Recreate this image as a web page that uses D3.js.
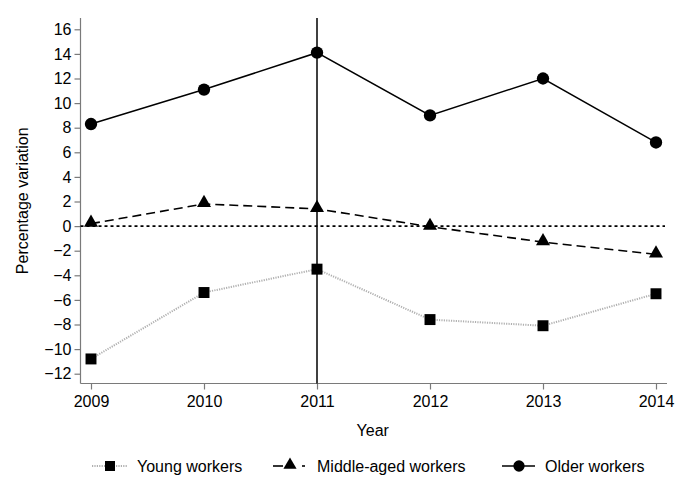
<!DOCTYPE html>
<html><head><meta charset="utf-8">
<script src="https://cdn.jsdelivr.net/npm/d3@7"></script>
<style>body{margin:0;background:#fff}svg{display:block}text{font-family:"Liberation Sans",Arial,sans-serif;fill:#000}</style>
</head><body>
<script>
const years = [2009, 2010, 2011, 2012, 2013, 2014];
const youngWorkers = [-10.8, -5.4, -3.5, -7.6, -8.1, -5.5];
const middleAgedWorkers = [0.2, 1.8, 1.4, -0.05, -1.3, -2.3];
const olderWorkers = [8.3, 11.1, 14.1, 9.0, 12.0, 6.8];
const yTicks = [-12,-10,-8,-6,-4,-2,0,2,4,6,8,10,12,14,16];
const seriesNames = ["Young workers", "Middle-aged workers", "Older workers"];
const referenceYear = 2011;

const W = 685, H = 497;
const svg = d3.select("body").append("svg").attr("width", W).attr("height", H);

const x = d3.scaleLinear().domain([2009, 2014]).range([91, 656]);
const y = d3.scaleLinear().domain([-12, 16]).range([373.7, 29.3]);
const axisLeftX = 80.5, axisBottomY = 383.5, plotTop = 18, plotRight = 667;
const axisColor = "#7a7a7a";

// Y axis
const gy = svg.append("g").attr("transform", `translate(${axisLeftX},0)`)
  .call(d3.axisLeft(y).tickValues(yTicks).tickSize(6).tickPadding(3).tickSizeOuter(0));
gy.select(".domain").remove();
gy.selectAll(".tick line").attr("stroke", axisColor).attr("stroke-width", 1.2);
gy.selectAll(".tick text").style("font-size", "16px").attr("fill", "#000");
svg.append("line").attr("x1", axisLeftX).attr("x2", axisLeftX).attr("y1", plotTop).attr("y2", axisBottomY)
  .attr("stroke", axisColor).attr("stroke-width", 1.2);

// X axis
const gx = svg.append("g").attr("transform", `translate(0,${axisBottomY})`)
  .call(d3.axisBottom(x).tickValues(years).tickFormat(d3.format("d")).tickSize(6).tickPadding(6).tickSizeOuter(0));
gx.select(".domain").remove();
gx.selectAll(".tick line").attr("stroke", axisColor).attr("stroke-width", 1.2);
gx.selectAll(".tick text").style("font-size", "16px").attr("fill", "#000");
svg.append("line").attr("x1", axisLeftX).attr("x2", plotRight).attr("y1", axisBottomY).attr("y2", axisBottomY)
  .attr("stroke", axisColor).attr("stroke-width", 1.2);

// Axis titles
svg.append("text").attr("x", (axisLeftX + plotRight) / 2 - 1).attr("y", 436).attr("text-anchor", "middle")
  .style("font-size", "16px").text("Year");
svg.append("text").attr("transform", `translate(28,${(plotTop + axisBottomY) / 2}) rotate(-90)`)
  .attr("text-anchor", "middle").style("font-size", "16px").text("Percentage variation");

// Zero reference line
svg.append("line").attr("x1", axisLeftX).attr("x2", plotRight - 2).attr("y1", y(0)).attr("y2", y(0))
  .attr("stroke", "#000").attr("stroke-width", 1.6).attr("stroke-dasharray", "3,3");
// Vertical reference line
svg.append("line").attr("x1", x(referenceYear)).attr("x2", x(referenceYear)).attr("y1", plotTop).attr("y2", axisBottomY)
  .attr("stroke", "#000").attr("stroke-width", 1.5);

const styles = [
  {data: youngWorkers, stroke: "#b0b0b0", width: 2, dash: "1.2,1.2", marker: "square"},
  {data: middleAgedWorkers, stroke: "#000", width: 1.6, dash: "9,5", marker: "triangle"},
  {data: olderWorkers, stroke: "#000", width: 1.5, dash: null, marker: "circle"}
];
const sym = {
  square: d3.symbol().type(d3.symbolSquare).size(120),
  triangle: d3.symbol().type(d3.symbolTriangle).size(85),
  circle: d3.symbol().type(d3.symbolCircle).size(120)
};
const line = d3.line().x((d, i) => x(years[i])).y(d => y(d));

styles.forEach(s => {
  svg.append("path").datum(s.data).attr("d", line).attr("fill", "none")
    .attr("stroke", s.stroke).attr("stroke-width", s.width).attr("stroke-dasharray", s.dash);
});
styles.forEach(s => {
  svg.selectAll(null).data(s.data).enter().append("path")
    .attr("d", sym[s.marker]).attr("fill", "#000")
    .attr("transform", (d, i) => `translate(${x(years[i])},${y(d) + (s.marker === "triangle" ? -1 : 0)})`);
});

// Legend
const legendY = 466;
const legendItems = [
  {x0: 92, x1: 127, mx: 110, tx: 137},
  {x0: 273, x1: 305, mx: 290, tx: 317},
  {x0: 502, x1: 535, mx: 519, tx: 545}
];
const legSym = {
  square: d3.symbol().type(d3.symbolSquare).size(100),
  triangle: d3.symbol().type(d3.symbolTriangle).size(75),
  circle: d3.symbol().type(d3.symbolCircle).size(100)
};
styles.forEach((s, k) => {
  const it = legendItems[k];
  const g = svg.append("g");
  if (s.marker === "triangle") {
    g.append("line").attr("x1", it.x0).attr("x2", it.x0 + 10).attr("y1", legendY).attr("y2", legendY)
      .attr("stroke", "#000").attr("stroke-width", 1.6);
    g.append("line").attr("x1", it.x1 - 3).attr("x2", it.x1).attr("y1", legendY).attr("y2", legendY)
      .attr("stroke", "#000").attr("stroke-width", 1.6);
  } else {
    g.append("line").attr("x1", it.x0).attr("x2", it.x1).attr("y1", legendY).attr("y2", legendY)
      .attr("stroke", s.stroke).attr("stroke-width", s.width).attr("stroke-dasharray", s.dash);
  }
  g.append("path").attr("d", legSym[s.marker]).attr("fill", "#000")
    .attr("transform", `translate(${it.mx},${legendY + (s.marker === "triangle" ? -1 : 0)})`);
  g.append("text").attr("x", it.tx).attr("y", legendY + 6).style("font-size", "16px").text(seriesNames[k]);
});
</script>
</body></html>
